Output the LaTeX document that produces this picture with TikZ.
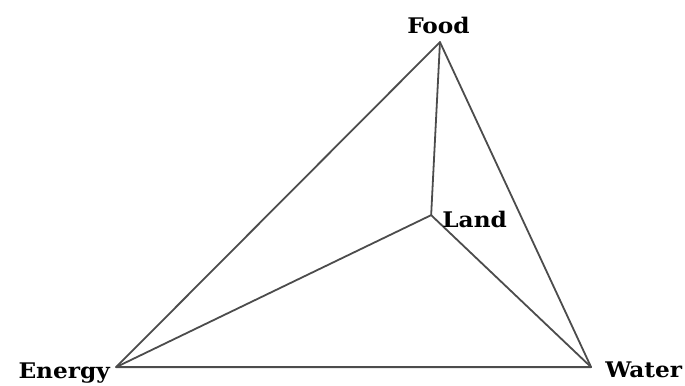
\documentclass[tikz,border=0pt]{standalone}
\usepackage{fontspec}
\setmainfont{DejaVu Serif}
\newfontfamily\labelfont{DejaVu Serif}[FakeStretch=1.08]
\usepackage{tkz-euclide}
\definecolor{EdgeClr}{rgb}{0.3,0.3,0.3}
\tikzset{lbl/.style={font=\labelfont\bfseries\fontsize{21.5}{24}\selectfont}}

\begin{document}
\begin{tikzpicture}
\path[use as bounding box] (0,0) rectangle (24.07,13.53);
\tkzSetUpLine[line width=1.8pt,color=EdgeClr]

\tkzDefPoints{15.46/12.05/F,15.15/5.97/L,4.08/0.63/E,20.77/0.63/W}

% outer triangle
\tkzDrawPolygon[line width=1.8pt,color=EdgeClr](E,W,F)
% spokes to the centre
\tkzDrawSegments[line width=1.8pt,color=EdgeClr](F,L L,E L,W)

\tkzLabelPoint[lbl,anchor=base,xshift=-1.5pt,yshift=9pt](F){Food}
\tkzLabelPoint[lbl,anchor=base west,xshift=7.7pt,yshift=-12pt](L){Land}
\tkzLabelPoint[lbl,anchor=base east,xshift=-2.7pt,yshift=-11.5pt](E){Energy}
\tkzLabelPoint[lbl,anchor=base west,xshift=10.7pt,yshift=-10.5pt](W){Water}

\end{tikzpicture}
\end{document}
